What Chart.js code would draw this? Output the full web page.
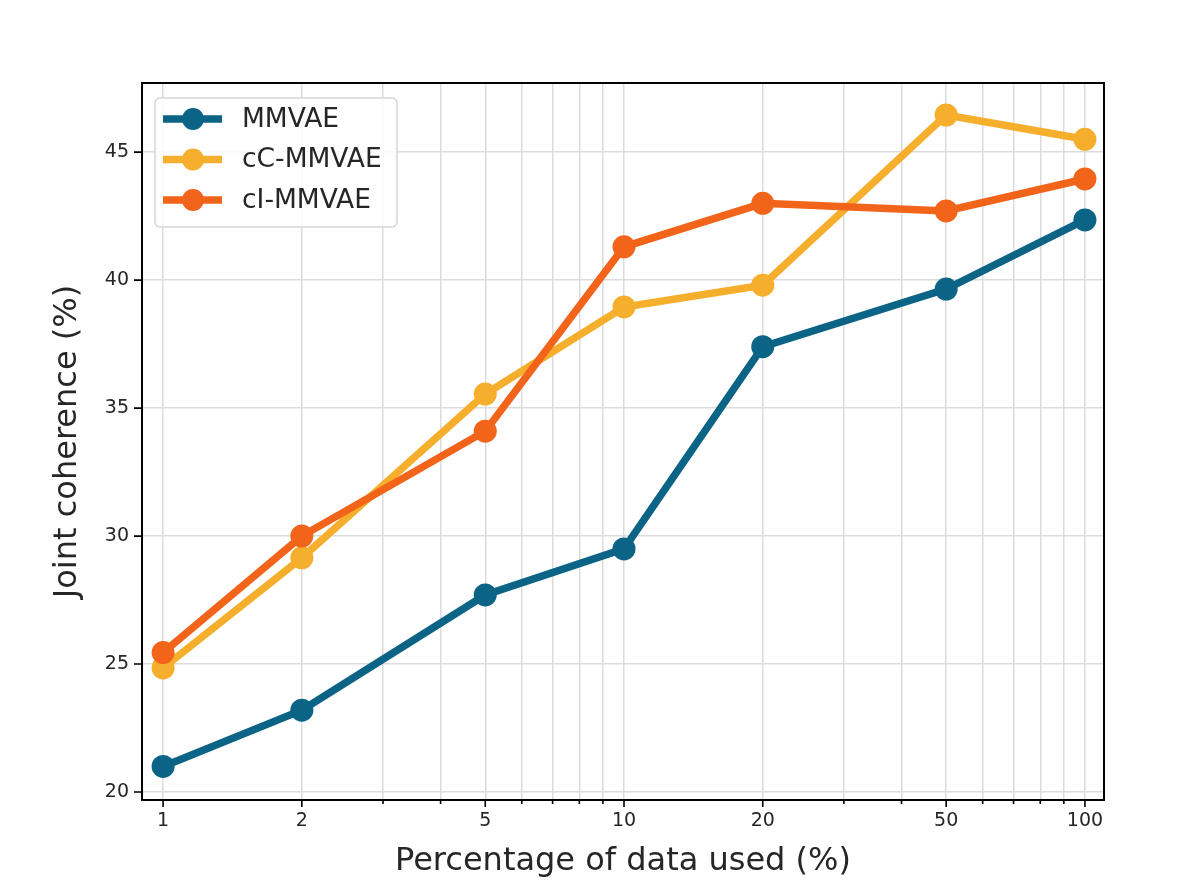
<!DOCTYPE html>
<html>
<head>
<meta charset="utf-8">
<script src="https://cdn.jsdelivr.net/npm/chart.js@4"></script>
<style>
  body { margin: 0; background: #fff; }
  canvas { display: block; }
</style>
</head>
<body>
<canvas id="chart" width="1196" height="894"></canvas>
<script>
const percentages = [1, 2, 5, 10, 20, 50, 100];
const mmvae = [21.0, 23.2, 27.7, 29.5, 37.4, 39.65, 42.35];
const ccMmvae = [24.85, 29.15, 35.55, 38.95, 39.8, 46.45, 45.5];
const ciMmvae = [25.45, 30.0, 34.1, 41.3, 43.0, 42.7, 43.95];
const seriesLabels = ['MMVAE', 'cC-MMVAE', 'cI-MMVAE'];
const seriesColors = ['#0b6386', '#f6ae2d', '#f26419'];

const xMajorTicks = [1, 2, 5, 10, 20, 50, 100];
const xMinorTicks = [3, 4, 6, 7, 8, 9, 30, 40, 60, 70, 80, 90];
const yTicks = [20, 25, 30, 35, 40, 45];

const FONT = 'DejaVu Sans';

function toPoints(values) {
  return percentages.map((p, i) => ({ x: p, y: values[i] }));
}

// frame around the plot and matplotlib-like tick marks
const framePlugin = {
  id: 'frame',
  afterDatasetsDraw(chart) {
    const { ctx, chartArea: a, scales } = chart;
    ctx.save();
    ctx.strokeStyle = '#000';
    ctx.lineWidth = 2;
    ctx.strokeRect(a.left, a.top, a.right - a.left, a.bottom - a.top);

    ctx.lineWidth = 1.6;
    ctx.beginPath();
    xMajorTicks.forEach(v => {
      const x = scales.x.getPixelForValue(v);
      ctx.moveTo(x, a.bottom);
      ctx.lineTo(x, a.bottom + 7);
    });
    xMinorTicks.forEach(v => {
      const x = scales.x.getPixelForValue(v);
      ctx.moveTo(x, a.bottom);
      ctx.lineTo(x, a.bottom + 4);
    });
    yTicks.forEach(v => {
      const y = scales.y.getPixelForValue(v);
      ctx.moveTo(a.left, y);
      ctx.lineTo(a.left - 8, y);
    });
    ctx.stroke();
    ctx.restore();
  }
};

// legend with a line and a marker, like matplotlib
const legendPlugin = {
  id: 'lineLegend',
  afterDatasetsDraw(chart) {
    const { ctx, chartArea: a } = chart;
    const x0 = a.left + 13, y0 = a.top + 15, w = 242, h = 129;
    ctx.save();
    ctx.fillStyle = 'rgba(255,255,255,0.85)';
    ctx.strokeStyle = '#d6d6d6';
    ctx.lineWidth = 1.5;
    ctx.beginPath();
    ctx.roundRect(x0, y0, w, h, 5);
    ctx.fill();
    ctx.stroke();

    ctx.font = '26.5px "' + FONT + '"';
    ctx.textBaseline = 'middle';
    seriesLabels.forEach((label, i) => {
      const y = y0 + 21 + i * 40.5;
      ctx.strokeStyle = seriesColors[i];
      ctx.lineWidth = 7.5;
      ctx.beginPath();
      ctx.moveTo(x0 + 8, y);
      ctx.lineTo(x0 + 67, y);
      ctx.stroke();
      ctx.fillStyle = seriesColors[i];
      ctx.beginPath();
      ctx.arc(x0 + 38, y, 11, 0, Math.PI * 2);
      ctx.fill();
      ctx.fillStyle = '#262626';
      ctx.fillText(label, x0 + 87, y + 1);
    });
    ctx.restore();
  }
};

function makeDataset(label, values, color, order) {
  return {
    label: label,
    data: toPoints(values),
    borderColor: color,
    backgroundColor: color,
    pointBackgroundColor: color,
    pointBorderWidth: 0,
    pointRadius: 11.5,
    borderWidth: 7.5,
    tension: 0,
    order: order
  };
}

new Chart(document.getElementById('chart'), {
  type: 'line',
  data: {
    datasets: [
      makeDataset(seriesLabels[0], mmvae, seriesColors[0], 3),
      makeDataset(seriesLabels[1], ccMmvae, seriesColors[1], 2),
      makeDataset(seriesLabels[2], ciMmvae, seriesColors[2], 1)
    ]
  },
  options: {
    responsive: false,
    animation: false,
    layout: { padding: { top: 83, right: 92, left: 0, bottom: 0 } },
    plugins: {
      legend: { display: false },
      tooltip: { enabled: false }
    },
    scales: {
      x: {
        type: 'logarithmic',
        min: 0.9,
        max: 110,
        afterFit(scale) { scale.height = 94; },
        afterBuildTicks(scale) {
          scale.ticks = xMajorTicks.concat(xMinorTicks).map(v => ({ value: v }));
        },
        grid: { color: '#dcdcdc', lineWidth: 1.5, drawTicks: false },
        border: { display: false },
        ticks: {
          autoSkip: false,
          maxRotation: 0,
          padding: 10,
          color: '#262626',
          font: { family: FONT, size: 19 },
          callback: v => xMajorTicks.includes(v) ? String(v) : ''
        },
        title: {
          display: true,
          text: 'Percentage of data used (%)',
          color: '#262626',
          font: { family: FONT, size: 32 },
          padding: { top: 0, bottom: 13 }
        }
      },
      y: {
        min: 19.69,
        max: 47.7,
        afterFit(scale) { scale.width = 142; },
        afterBuildTicks(scale) {
          scale.ticks = yTicks.map(v => ({ value: v }));
        },
        grid: { color: '#dcdcdc', lineWidth: 1.5, drawTicks: false },
        border: { display: false },
        ticks: {
          padding: 13,
          color: '#262626',
          font: { family: FONT, size: 19 }
        },
        title: {
          display: true,
          text: 'Joint coherence (%)',
          color: '#262626',
          font: { family: FONT, size: 32 },
          padding: { top: 48, bottom: 0 }
        }
      }
    }
  },
  plugins: [framePlugin, legendPlugin]
});
</script>
</body>
</html>
